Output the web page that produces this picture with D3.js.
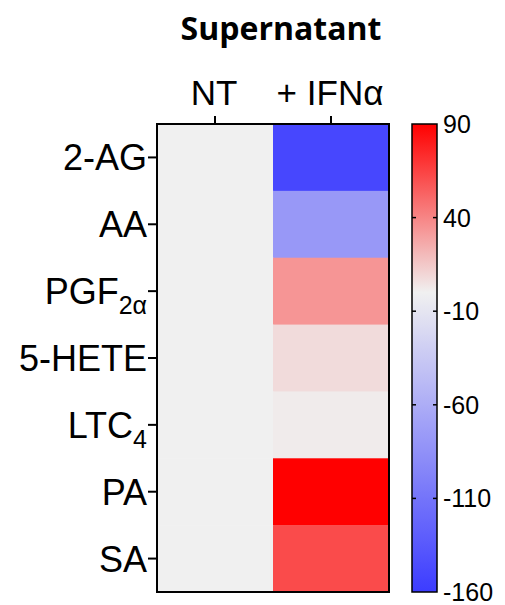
<!DOCTYPE html>
<html>
<head>
<meta charset="utf-8">
<script src="https://cdn.jsdelivr.net/npm/d3@7"></script>
<style>
  body { margin: 0; background: #fff; }
  text { font-family: "Liberation Sans", Arial, sans-serif; fill: #000; }
</style>
</head>
<body>
<script>
const rows = ["2-AG", "AA", "PGF2a", "5-HETE", "LTC4", "PA", "SA"];
const columns = ["NT", "+ IFNα"];
const ntValues = [0, 0, 0, 0, 0, 0, 0];
const ifnValues = [-150, -78, 34, 8, 2, 90, 62];
const colorTicks = [90, 40, -10, -60, -110, -160];

// label parts: main text + optional subscript
const labelParts = {
  "PGF2a": ["PGF", "2α"],
  "LTC4": ["LTC", "4"]
};

const w = 505;
const h = 605;
const mLeft = 157, mRight = 389, mTop = 124, mBottom = 592;

const svg = d3.select("body").append("svg")
  .attr("width", w)
  .attr("height", h);

svg.append("text")
  .attr("x", 281)
  .attr("y", 40)
  .attr("text-anchor", "middle")
  .style("font-family", "'Open Sans', sans-serif")
  .style("font-weight", "bold")
  .style("font-size", "32px")
  .text("Supernatant");

const x = d3.scaleBand().domain(columns).range([mLeft, mRight]);
const y = d3.scaleBand().domain(rows).range([mTop, mBottom]);

const color = d3.scaleLinear()
  .domain([-160, 0, 90])
  .range(["#3c3cff", "#f0f0f0", "#ff0000"])
  .interpolate(d3.interpolateRgb);

const cells = [];
rows.forEach((r, i) => {
  cells.push({ row: r, col: columns[0], value: ntValues[i] });
  cells.push({ row: r, col: columns[1], value: ifnValues[i] });
});

svg.append("g")
  .selectAll("rect")
  .data(cells)
  .enter()
  .append("rect")
  .attr("x", d => x(d.col))
  .attr("y", d => y(d.row))
  .attr("width", x.bandwidth() + 0.5)
  .attr("height", y.bandwidth() + 0.5)
  .style("fill", d => color(d.value));

svg.append("rect")
  .attr("x", mLeft)
  .attr("y", mTop)
  .attr("width", mRight - mLeft)
  .attr("height", mBottom - mTop)
  .style("fill", "none")
  .style("stroke", "#000")
  .style("stroke-width", 2);

// top axis
const topAxis = svg.append("g");
topAxis.selectAll("line")
  .data(columns)
  .enter()
  .append("line")
  .attr("x1", d => x(d) + x.bandwidth() / 2)
  .attr("x2", d => x(d) + x.bandwidth() / 2)
  .attr("y1", mTop - 8)
  .attr("y2", mTop)
  .style("stroke", "#000")
  .style("stroke-width", 2);
topAxis.selectAll("text")
  .data(columns)
  .enter()
  .append("text")
  .attr("x", d => x(d) + x.bandwidth() / 2 - 1)
  .attr("y", 105)
  .attr("text-anchor", "middle")
  .style("font-size", "35px")
  .text(d => d);

// left axis
const leftAxis = svg.append("g");
leftAxis.selectAll("line")
  .data(rows)
  .enter()
  .append("line")
  .attr("x1", mLeft - 9)
  .attr("x2", mLeft)
  .attr("y1", d => y(d) + y.bandwidth() / 2)
  .attr("y2", d => y(d) + y.bandwidth() / 2)
  .style("stroke", "#000")
  .style("stroke-width", 2);
const lbl = leftAxis.selectAll("text")
  .data(rows)
  .enter()
  .append("text")
  .attr("x", mLeft - 10)
  .attr("y", d => y(d) + y.bandwidth() / 2 + 13)
  .attr("text-anchor", "end")
  .style("font-size", "36px");
lbl.each(function(d) {
  const t = d3.select(this);
  if (labelParts[d]) {
    t.append("tspan").text(labelParts[d][0]);
    t.append("tspan")
      .attr("dy", 10)
      .style("font-size", "25px")
      .text(labelParts[d][1]);
  } else {
    t.text(d);
  }
});

// color bar
const cbLeft = 412, cbRight = 437;
const cy = d3.scaleLinear().domain([90, -160]).range([mTop, mBottom]);

const grad = svg.append("defs").append("linearGradient")
  .attr("id", "cbar")
  .attr("x1", 0).attr("y1", 0).attr("x2", 0).attr("y2", 1);
d3.range(0, 26).forEach(i => {
  const v = 90 - i * 10;
  grad.append("stop")
    .attr("offset", (cy(v) - mTop) / (mBottom - mTop))
    .attr("stop-color", color(v));
});

svg.append("rect")
  .attr("x", cbLeft)
  .attr("y", mTop)
  .attr("width", cbRight - cbLeft)
  .attr("height", mBottom - mTop)
  .style("fill", "url(#cbar)")
  .style("stroke", "#000")
  .style("stroke-width", 1.5);

const cbAxis = svg.append("g");
cbAxis.selectAll("line.l")
  .data(colorTicks.slice(1, -1))
  .enter()
  .append("line")
  .attr("class", "l")
  .attr("x1", cbLeft).attr("x2", cbLeft + 4)
  .attr("y1", d => cy(d)).attr("y2", d => cy(d))
  .style("stroke", "#000").style("stroke-width", 1.5);
cbAxis.selectAll("line.r")
  .data(colorTicks.slice(1, -1))
  .enter()
  .append("line")
  .attr("class", "r")
  .attr("x1", cbRight - 4).attr("x2", cbRight)
  .attr("y1", d => cy(d)).attr("y2", d => cy(d))
  .style("stroke", "#000").style("stroke-width", 1.5);
cbAxis.selectAll("text")
  .data(colorTicks)
  .enter()
  .append("text")
  .attr("x", 443)
  .attr("y", d => cy(d) + 9)
  .style("font-size", "25px")
  .text(d => d);
</script>
</body>
</html>
